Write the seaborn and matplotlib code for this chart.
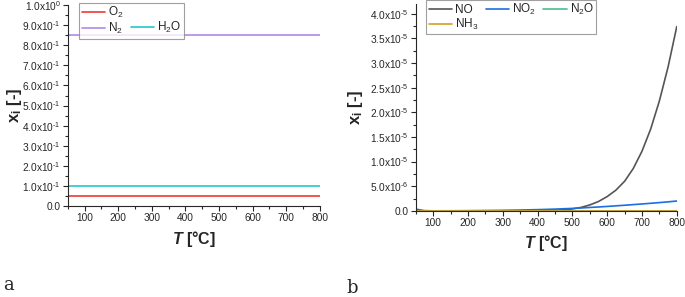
import numpy as np
import matplotlib
matplotlib.use("Agg")
import matplotlib.pyplot as plt
from matplotlib.lines import Line2D
from matplotlib.ticker import FuncFormatter, MultipleLocator, AutoMinorLocator
import seaborn as sns

# panel a: main species (constant mole fractions)
temp_a = [50, 800]
o2 = [0.05, 0.05]
n2 = [0.85, 0.85]
h2o = [0.10, 0.10]

# panel b: minor species
temp_b = [50, 75, 100, 150, 200, 250, 300, 350, 400, 425, 450, 475, 500, 525,
          550, 575, 600, 625, 650, 675, 700, 725, 750, 775, 800]
no = [0, 0, 0, 0, 0, 0, 0.0005e-5, 0.001e-5, 0.003e-5, 0.006e-5, 0.012e-5, 0.022e-5,
      0.04e-5, 0.07e-5, 0.12e-5, 0.19e-5, 0.29e-5, 0.42e-5, 0.60e-5, 0.86e-5,
      1.21e-5, 1.66e-5, 2.23e-5, 2.92e-5, 3.74e-5]
no2 = [0.35e-6, 0.05e-6, 0.01e-6, 0.02e-6, 0.04e-6, 0.07e-6, 0.11e-6, 0.17e-6,
       0.25e-6, 0.30e-6, 0.36e-6, 0.43e-6, 0.50e-6, 0.59e-6, 0.69e-6, 0.79e-6,
       0.90e-6, 1.02e-6, 1.14e-6, 1.27e-6, 1.40e-6, 1.54e-6, 1.68e-6, 1.83e-6, 2.0e-6]
n2o = [0.0] * len(temp_b)
nh3 = [0.0] * len(temp_b)

sns.set_style("ticks")
plt.rcParams['font.family'] = ['Liberation Sans', 'DejaVu Sans']
plt.rcParams['mathtext.fontset'] = 'custom'
plt.rcParams['mathtext.rm'] = 'Liberation Sans'
plt.rcParams['mathtext.it'] = 'Liberation Sans:italic:bold'
plt.rcParams['mathtext.bf'] = 'Liberation Sans:bold'


def sci(v, pos):
    if v == 0:
        return "0.0"
    e = int(np.floor(np.log10(abs(v)) + 1e-9))
    m = v / 10 ** e
    exp = str(e).replace('-', '\u2010')
    return f"{m:.1f}x10$^{{{exp}}}$"


fig = plt.figure(figsize=(6.85, 2.97), dpi=100)
ax1 = fig.add_axes([0.099, 0.306, 0.368, 0.677])
ax2 = fig.add_axes([0.607, 0.290, 0.381, 0.697])

sns.lineplot(x=temp_a, y=o2, color='#f03a36', label='O$_2$', ax=ax1, lw=1.2)
sns.lineplot(x=temp_a, y=n2, color='#b389e8', label='N$_2$', ax=ax1, lw=1.2)
sns.lineplot(x=temp_a, y=h2o, color='#29c6c6', label='H$_2$O', ax=ax1, lw=1.2)

sns.lineplot(x=temp_b, y=no, color='#555555', label='NO', ax=ax2, lw=1.2)
sns.lineplot(x=temp_b, y=no2, color='#1c6fe0', label='NO$_2$', ax=ax2, lw=1.2)
sns.lineplot(x=temp_b, y=n2o, color='#4cbe8a', label='N$_2$O', ax=ax2, lw=1.2)
sns.lineplot(x=temp_b, y=nh3, color='#d4a020', label='NH$_3$', ax=ax2, lw=1.2)

for ax, top, step, ylab_x in [(ax1, 1.0, 0.1, -0.175), (ax2, 4.2e-5, 5e-6, -0.195)]:
    ax.set_xlim(50, 800)
    ax.set_ylim(0, top)
    ax.xaxis.set_major_locator(MultipleLocator(100))
    ax.xaxis.set_minor_locator(AutoMinorLocator(2))
    ax.yaxis.set_major_locator(MultipleLocator(step))
    ax.yaxis.set_minor_locator(AutoMinorLocator(2))
    ax.yaxis.set_major_formatter(FuncFormatter(sci))
    ax.tick_params(which='major', length=3.5, width=0.8, labelsize=7.3, pad=1.5)
    ax.tick_params(which='minor', length=2, width=0.8)
    sns.despine(ax=ax)
    ax.set_xlabel('$T$ [°C]', fontsize=11.5, fontweight='bold', labelpad=4)
    ax.set_ylabel(r'$\mathbf{x_i}$ [-]', fontsize=12, fontweight='bold')
    ax.yaxis.set_label_coords(ylab_x, 0.5)

leg_kw = dict(fontsize=8.5, frameon=True, fancybox=False, edgecolor='#888888',
              handlelength=2.0, handletextpad=0.25, columnspacing=0.6,
              borderpad=0.2, labelspacing=0.05, borderaxespad=0)

# legend a: O2 / N2 in first column, H2O next to N2
h, l = ax1.get_legend_handles_labels()
blank = Line2D([], [], color='none')
leg1 = ax1.legend([h[0], h[1], blank, h[2]], [l[0], l[1], '', l[2]], ncol=2,
                  loc='upper left', bbox_to_anchor=(0.045, 1.01), **leg_kw)
leg1.get_frame().set_linewidth(0.8)

h, l = ax2.get_legend_handles_labels()
order = [0, 3, 1, 2]
leg2 = ax2.legend([h[i] for i in order], [l[i] for i in order], ncol=3,
                  loc='upper left', bbox_to_anchor=(0.04, 1.02), **leg_kw)
leg2.get_frame().set_linewidth(0.8)

fig.text(0.004, 0.025, 'a', family='DejaVu Serif', fontsize=13)
fig.text(0.505, 0.015, 'b', family='DejaVu Serif', fontsize=13)

fig.savefig('out.png', dpi=100)
